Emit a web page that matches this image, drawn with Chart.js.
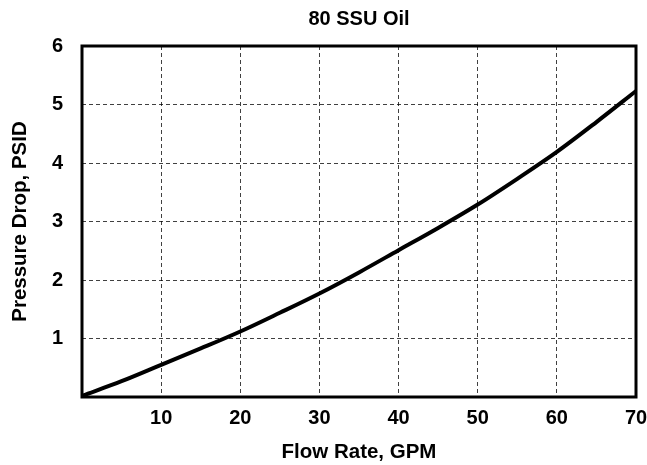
<!DOCTYPE html>
<html>
<head>
<meta charset="utf-8">
<title>80 SSU Oil</title>
<script src="https://cdn.jsdelivr.net/npm/chart.js@4"></script>
<style>
    html, body { margin: 0; padding: 0; background: #fff; }
    #wrap { width: 647px; height: 465px; }
</style>
</head>
<body>
<div id="wrap"><canvas id="chart" width="647" height="465"></canvas></div>
<script>
// Flow rate (GPM) vs pressure drop (PSID)
const flowRate = [0, 5, 10, 15, 20, 25, 30, 35, 40, 45, 50, 55, 60, 65, 70];
const pressureDrop = [0.02, 0.27, 0.55, 0.83, 1.12, 1.44, 1.77, 2.13, 2.51, 2.89, 3.29, 3.73, 4.19, 4.70, 5.23];

const chartTitle = '80 SSU Oil';
const xTitle = 'Flow Rate, GPM';
const yTitle = 'Pressure Drop, PSID';

const points = flowRate.map((x, i) => ({ x: x, y: pressureDrop[i] }));

Chart.defaults.font.family = "'Liberation Sans', Arial, sans-serif";
Chart.defaults.font.weight = 'bold';
Chart.defaults.color = '#000';

// frame around the plot area
const plotFrame = {
    id: 'plotFrame',
    afterDraw(chart) {
        const a = chart.chartArea;
        const ctx = chart.ctx;
        ctx.save();
        ctx.strokeStyle = '#000';
        ctx.lineWidth = 3;
        ctx.strokeRect(a.left, a.top, a.right - a.left, a.bottom - a.top);
        ctx.restore();
    }
};

const gridOpts = { color: 'rgba(0,0,0,0.75)', lineWidth: 1, drawTicks: false };
const borderOpts = { display: false, dash: [4, 3] };

new Chart(document.getElementById('chart').getContext('2d'), {
    type: 'line',
    data: {
        datasets: [{
            data: points,
            borderColor: '#000',
            borderWidth: 4,
            pointRadius: 0,
            fill: false,
            cubicInterpolationMode: 'monotone'
        }]
    },
    options: {
        responsive: false,
        animation: false,
        layout: { padding: { left: 0, right: 11, top: 0, bottom: 0 } },
        plugins: {
            legend: { display: false },
            tooltip: { enabled: false },
            title: {
                display: true,
                fullSize: false,
                text: chartTitle,
                font: { size: 20, weight: 'bold' },
                padding: { top: 7, bottom: 15 }
            }
        },
        scales: {
            x: {
                type: 'linear',
                min: 0,
                max: 70,
                grid: gridOpts,
                border: borderOpts,
                afterFit(scale) {
                    scale.height = 68;
                    scale.paddingRight = 0;
                    scale.paddingLeft = 0;
                },
                ticks: {
                    stepSize: 10,
                    padding: 9,
                    maxRotation: 0,
                    font: { size: 20, weight: 'bold' },
                    callback: v => (v === 0 ? '' : v)
                },
                title: {
                    display: true,
                    text: xTitle,
                    font: { size: 20.5, weight: 'bold' },
                    padding: { top: 1, bottom: 0 }
                }
            },
            y: {
                min: 0,
                max: 6,
                grid: gridOpts,
                border: borderOpts,
                afterFit(scale) { scale.width = 82; },
                ticks: {
                    stepSize: 1,
                    padding: 19,
                    font: { size: 20, weight: 'bold' },
                    callback: v => (v === 0 ? '' : v)
                },
                title: {
                    display: true,
                    text: yTitle,
                    font: { size: 20.5, weight: 'bold' },
                    padding: { top: 8, bottom: 0 }
                }
            }
        }
    },
    plugins: [plotFrame]
});
</script>
</body>
</html>
